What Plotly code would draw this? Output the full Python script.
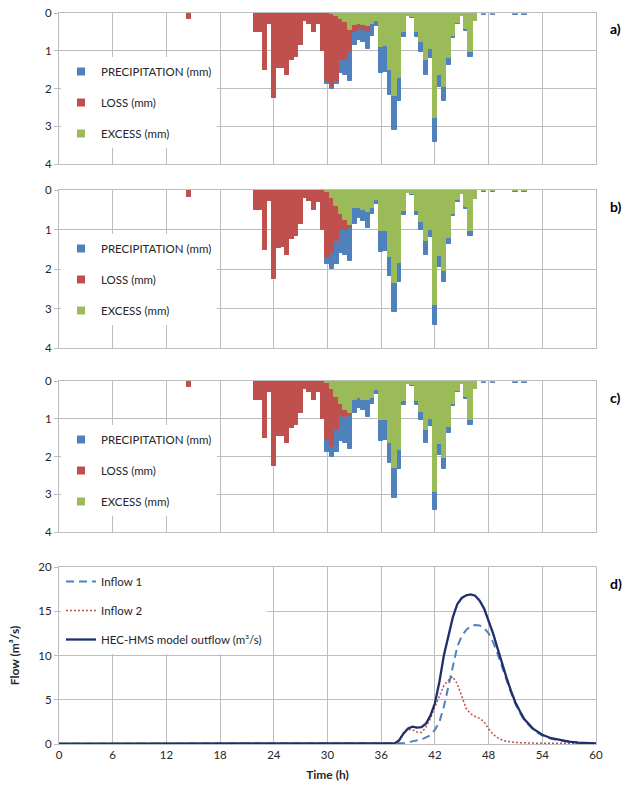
import plotly.graph_objects as go

# ---------------- DATA ----------------
bar_time = [14.5, 22.0, 22.5, 23.0, 23.5, 24.0, 24.5, 25.0, 25.5, 26.0, 26.5, 27.0, 27.5, 28.0,
            28.5, 29.0, 29.5, 30.0, 30.5, 31.0, 31.5, 32.0, 32.5, 33.0, 33.5, 34.0, 34.5, 35.0,
            35.5, 36.0, 36.5, 37.0, 37.5, 38.0, 38.5, 39.0, 39.5, 40.0, 40.5, 41.0, 41.5, 42.0,
            42.5, 43.0, 43.5, 44.0, 44.5, 45.0, 45.5, 46.0, 46.5, 47.5, 48.5, 51.0, 52.0]

precipitation = [0.17, 0.5, 0.5, 1.52, 0.28, 2.25, 1.47, 1.45, 1.65, 1.25, 1.17, 0.85, 0.2, 0.28,
                 0.5, 0.3, 1.0, 1.88, 2.0, 1.88, 1.6, 1.65, 1.8, 0.85, 0.72, 0.78, 0.95, 0.6,
                 0.35, 1.58, 1.55, 2.18, 3.1, 2.33, 0.64, 0.08, 0.13, 0.64, 1.02, 1.64, 1.2, 3.42,
                 1.96, 2.34, 1.37, 0.65, 0.3, 0.09, 0.48, 1.17, 0.22, 0.04, 0.04, 0.04, 0.04]

loss_a = [0.17, 0.5, 0.5, 1.52, 0.28, 2.25, 1.47, 1.45, 1.65, 1.25, 1.17, 0.85, 0.2, 0.28,
          0.5, 0.3, 1.0, 1.8, 1.95, 1.8, 1.25, 1.25, 1.0, 0.5, 0.42, 0.45, 0.5, 0.3,
          0.12, 0.6, 0.6, 0.65, 0.9, 0.6, 0.14, 0.01, 0.02, 0.14, 0.22, 0.4, 0.24, 0.63,
          0.33, 0.37, 0.17, 0.05, 0.04, 0.0, 0.06, 0.15, 0.0, 0.0, 0.0, 0.0, 0.0]
excess_a = [0.0, 0.0, 0.0, 0.0, 0.0, 0.0, 0.0, 0.0, 0.0, 0.0, 0.0, 0.0, 0.0, 0.0,
            0.0, 0.0, 0.0, 0.0, 0.03, 0.08, 0.15, 0.25, 0.45, 0.33, 0.3, 0.33, 0.35, 0.3,
            0.22, 0.9, 0.88, 1.5, 2.2, 1.73, 0.5, 0.07, 0.11, 0.5, 0.78, 1.24, 0.96, 2.79,
            1.63, 1.97, 1.2, 0.6, 0.26, 0.09, 0.42, 1.02, 0.22, 0.02, 0.02, 0.02, 0.02]

loss_b = [0.17, 0.5, 0.5, 1.52, 0.28, 2.25, 1.47, 1.45, 1.65, 1.25, 1.17, 0.85, 0.2, 0.28,
          0.5, 0.3, 1.0, 1.72, 1.6, 1.3, 1.0, 1.0, 0.95, 0.3, 0.25, 0.28, 0.35, 0.15,
          0.08, 0.5, 0.5, 0.45, 0.75, 0.5, 0.12, 0.01, 0.02, 0.12, 0.2, 0.33, 0.2, 0.52,
          0.28, 0.3, 0.15, 0.05, 0.04, 0.0, 0.05, 0.13, 0.0, 0.0, 0.0, 0.0, 0.0]
excess_b = [0.0, 0.0, 0.0, 0.0, 0.0, 0.0, 0.0, 0.0, 0.0, 0.0, 0.0, 0.0, 0.0, 0.0,
            0.0, 0.0, 0.0, 0.05, 0.2, 0.4, 0.6, 0.75, 0.88, 0.46, 0.45, 0.5, 0.55, 0.45,
            0.26, 1.05, 1.03, 1.7, 2.35, 1.85, 0.52, 0.07, 0.11, 0.52, 0.82, 1.3, 1.0, 2.9,
            1.68, 2.04, 1.22, 0.6, 0.26, 0.09, 0.43, 1.04, 0.22, 0.02, 0.02, 0.02, 0.02]

loss_c = [0.17, 0.5, 0.5, 1.52, 0.28, 2.25, 1.47, 1.45, 1.65, 1.25, 1.17, 0.85, 0.2, 0.28,
          0.5, 0.3, 1.0, 1.56, 1.74, 1.3, 0.9, 0.95, 0.9, 0.3, 0.25, 0.28, 0.35, 0.15,
          0.08, 0.5, 0.5, 0.5, 0.78, 0.5, 0.12, 0.01, 0.02, 0.12, 0.2, 0.33, 0.2, 0.5,
          0.28, 0.3, 0.15, 0.05, 0.04, 0.0, 0.05, 0.13, 0.0, 0.0, 0.0, 0.0, 0.0]
excess_c = [0.0, 0.0, 0.0, 0.0, 0.0, 0.0, 0.0, 0.0, 0.0, 0.0, 0.0, 0.0, 0.0, 0.0,
            0.0, 0.0, 0.0, 0.05, 0.22, 0.42, 0.62, 0.76, 0.86, 0.5, 0.45, 0.5, 0.5, 0.45,
            0.24, 1.03, 1.02, 1.65, 2.31, 1.83, 0.52, 0.07, 0.11, 0.52, 0.82, 1.3, 1.0, 2.93,
            1.68, 2.04, 1.22, 0.6, 0.26, 0.09, 0.43, 1.04, 0.22, 0.02, 0.02, 0.02, 0.02]

flow_time = [0, 37, 37.5, 38, 38.5, 39, 39.5, 40, 40.5, 41, 41.5, 42, 42.5, 43, 43.5, 44, 44.5,
             45, 45.5, 46, 46.5, 47, 47.5, 48, 48.5, 49, 49.5, 50, 50.5, 51, 51.5, 52, 53, 54,
             55, 56, 57, 58, 59, 60]
inflow_1 = [0.02, 0.02, 0.02, 0.03, 0.08, 0.2, 0.3, 0.4, 0.5, 0.75, 1.0, 1.6, 2.5, 4.2, 6.6, 9.0,
            11.0, 12.2, 12.9, 13.3, 13.45, 13.4, 13.1, 12.5, 11.5, 10.2, 8.7, 7.2, 5.8, 4.5, 3.5,
            2.7, 1.6, 0.95, 0.6, 0.38, 0.24, 0.14, 0.08, 0.05]
inflow_2 = [0.02, 0.02, 0.05, 0.5, 1.3, 1.65, 1.6, 1.35, 1.3, 1.9, 2.9, 4.2, 5.5, 6.6, 7.2, 7.6,
            6.8, 5.3, 4.0, 3.4, 3.1, 2.9, 2.5, 1.7, 1.1, 0.7, 0.45, 0.3, 0.22, 0.18, 0.15, 0.12,
            0.1, 0.09, 0.08, 0.07, 0.06, 0.06, 0.05, 0.05]
outflow = [0.05, 0.05, 0.06, 0.4, 1.2, 1.75, 1.95, 1.85, 1.9, 2.3, 3.2, 4.6, 7.0, 10.0, 12.3, 14.3,
           15.8, 16.5, 16.8, 16.9, 16.75, 16.2, 15.3, 14.0, 12.5, 10.8, 9.1, 7.5, 6.0, 4.7, 3.7,
           2.8, 1.7, 1.05, 0.65, 0.42, 0.27, 0.16, 0.1, 0.06]

x_ticks = [0, 6, 12, 18, 24, 30, 36, 42, 48, 54, 60]
panel_labels = ["a)", "b)", "c)", "d)"]
bar_names = ["PRECIPITATION (mm)", "LOSS (mm)", "EXCESS (mm)"]
line_names = ["Inflow 1", "Inflow 2", "HEC-HMS model outflow (m\u00b3/s)"]

# ---------------- STYLE ----------------
W, H = 630, 791
FONT = "Lato"
C_P, C_L, C_E = "#4f81bd", "#c0504d", "#9bbb59"
C_OUT = "#1f2f6b"
GRID = "#bdbdbd"
TXT = "#262626"

def py(px):
    return 1 - px / H

xdom = [59 / W, 596 / W]
panels = [(13, 164), (190, 348), (381, 532), (567, 744)]

fig = go.Figure()

panel_sets = [(loss_a, excess_a), (loss_b, excess_b), (loss_c, excess_c)]
for i, (loss, excess) in enumerate(panel_sets):
    k = "" if i == 0 else str(i + 1)
    xa, ya = "x" + k, "y" + k
    lg = "legend" + k
    for vals, col in [(precipitation, C_P), (loss, C_L), (excess, C_E)]:
        fig.add_trace(go.Bar(x=bar_time, y=vals, width=0.5,
                             marker=dict(color=col, line=dict(width=1.0, color=col)),
                             xaxis=xa, yaxis=ya, showlegend=False, hoverinfo="skip"))
    for j, (nm, col) in enumerate(zip(bar_names, [C_P, C_L, C_E])):
        fig.add_trace(go.Scatter(x=[None], y=[None], mode="markers", name=nm,
                                 marker=dict(symbol="square", size=8, color=col),
                                 xaxis=xa, yaxis=ya, legend=lg, legendgroup=f"g{i}{j}"))

fig.add_trace(go.Scatter(x=flow_time, y=inflow_1, mode="lines", name=line_names[0],
                         line=dict(color=C_P, width=2, dash="8px,5px"), xaxis="x4", yaxis="y4",
                         legend="legend4", legendgroup="d0"))
fig.add_trace(go.Scatter(x=flow_time, y=inflow_2, mode="lines", name=line_names[1],
                         line=dict(color=C_L, width=1.5, dash="2px,2px"), xaxis="x4", yaxis="y4",
                         legend="legend4", legendgroup="d1"))
fig.add_trace(go.Scatter(x=flow_time, y=outflow, mode="lines", name=line_names[2],
                         line=dict(color=C_OUT, width=2.3), xaxis="x4", yaxis="y4",
                         legend="legend4", legendgroup="d2"))

layout = dict(width=W, height=H, margin=dict(l=0, r=0, t=0, b=0, autoexpand=False),
              paper_bgcolor="white", plot_bgcolor="white", barmode="overlay", bargap=0,
              font=dict(family=FONT, size=11, color=TXT), showlegend=True)

for i, (top, bot) in enumerate(panels):
    k = "" if i == 0 else str(i + 1)
    ax = dict(domain=xdom, range=[0, 60], tickvals=x_ticks, showgrid=True, gridcolor=GRID,
              gridwidth=1.2, zeroline=False, showline=True, mirror=True, linecolor=GRID,
              linewidth=1.2, anchor="y" + k, showticklabels=(i == 3), ticks="",
              automargin=False, tickfont=dict(size=11.5, color=TXT))
    if i == 3:
        ax["title"] = dict(text="<b>Time (h)</b>", font=dict(size=12, color=TXT), standoff=10)
    if i < 3:
        ay = dict(domain=[py(bot), py(top)], range=[4, 0], tickvals=[0, 1, 2, 3, 4])
    else:
        ay = dict(domain=[py(bot), py(top)], range=[0, 20], tickvals=[0, 5, 10, 15, 20],
                  title=dict(text="<b>Flow (m\u00b3/s)</b>", font=dict(size=12, color=TXT), standoff=16))
    ay.update(anchor="x" + k, showgrid=True, gridcolor=GRID, gridwidth=1.2, zeroline=False,
              showline=True, mirror=True, linecolor=GRID, linewidth=1.2, ticks="outside",
              ticklen=4, tickcolor=GRID, automargin=False, tickfont=dict(size=11.5, color=TXT))
    layout["xaxis" + k] = ax
    layout["yaxis" + k] = ay

leg_common = dict(bgcolor="white", borderwidth=0, xanchor="left", yanchor="top",
                  traceorder="grouped", font=dict(size=11.5, color=TXT, family=FONT))
for i, (top, bot) in enumerate(panels[:3]):
    k = "" if i == 0 else str(i + 1)
    layout["legend" + k] = dict(leg_common, x=61 / W, y=py(top + 44), tracegroupgap=12)
layout["legend4"] = dict(leg_common, x=61 / W, y=py(567), tracegroupgap=10)

ann = []
for lab, (top, bot) in zip(panel_labels, panels):
    ann.append(dict(text="<b>" + lab + "</b>", x=608 / W, y=py(top + 16), xref="paper", yref="paper",
                    xanchor="left", yanchor="middle", showarrow=False,
                    font=dict(size=14, color="black", family=FONT)))
layout["annotations"] = ann

fig.update_layout(**layout)
fig.write_html("out.html", config={"displayModeBar": False},
               post_script="document.body.style.margin='0px';")
